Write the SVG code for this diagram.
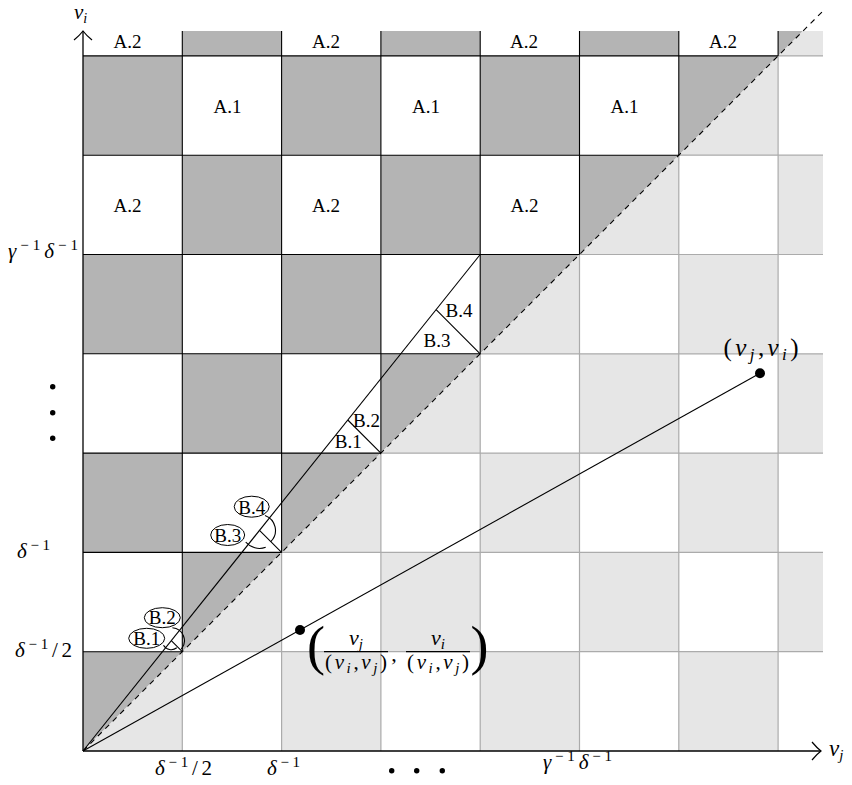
<svg xmlns="http://www.w3.org/2000/svg" width="852" height="785" viewBox="0 0 852 785">
<style>
.dk{fill:#b4b4b4}
.lt{fill:#e6e6e6}
.gk{stroke:#000;stroke-width:1.1;fill:none}
.gg{stroke:#ababab;stroke-width:1.2;fill:none}
.ln{stroke:#000;stroke-width:1.1;fill:none}
text{font-family:"Liberation Serif",serif}
.t{font-size:19px}
.i{font-style:italic}
.el{fill:#fff;stroke:#000;stroke-width:1}
</style>
<defs>
<marker id="ah" viewBox="0 0 12 20" refX="10" refY="10" markerWidth="12" markerHeight="20" markerUnits="userSpaceOnUse" orient="auto">
<path d="M1 1 Q6 7 10 10 Q6 13 1 19" fill="none" stroke="#000" stroke-width="1.2"/>
</marker>
</defs>
<rect width="852" height="785" fill="#fff"/>
<g id="cells">
<path class="dk" d="M83 453.1H182.3V552.4H83Z M182.3 353.8H281.6V453.1H182.3Z M83 254.5H182.3V353.8H83Z M281.6 254.5H380.9V353.8H281.6Z M182.3 155.2H281.6V254.5H182.3Z M380.9 155.2H480.2V254.5H380.9Z M83 55.9H182.3V155.2H83Z M281.6 55.9H380.9V155.2H281.6Z M480.2 55.9H579.5V155.2H480.2Z M182.3 31H281.6V55.9H182.3Z M380.9 31H480.2V55.9H380.9Z M579.5 31H678.8V55.9H579.5Z"/>
<path class="dk" d="M83 751L83 651.7L182.3 651.7Z M182.3 651.7L182.3 552.4L281.6 552.4Z M281.6 552.4L281.6 453.1L380.9 453.1Z M380.9 453.1L380.9 353.8L480.2 353.8Z M480.2 353.8L480.2 254.5L579.5 254.5Z M579.5 254.5L579.5 155.2L678.8 155.2Z M678.8 155.2L678.8 55.9L778.1 55.9Z M778.1 55.9L778.1 31L803 31Z"/>
<path class="lt" d="M281.6 651.7H380.9V751H281.6Z M480.2 651.7H579.5V751H480.2Z M678.8 651.7H778.1V751H678.8Z M380.9 552.4H480.2V651.7H380.9Z M579.5 552.4H678.8V651.7H579.5Z M778.1 552.4H823V651.7H778.1Z M480.2 453.1H579.5V552.4H480.2Z M678.8 453.1H778.1V552.4H678.8Z M579.5 353.8H678.8V453.1H579.5Z M778.1 353.8H823V453.1H778.1Z M678.8 254.5H778.1V353.8H678.8Z M778.1 155.2H823V254.5H778.1Z"/>
<path class="lt" d="M83 751L182.3 751L182.3 651.7Z M182.3 651.7L281.6 651.7L281.6 552.4Z M281.6 552.4L380.9 552.4L380.9 453.1Z M380.9 453.1L480.2 453.1L480.2 353.8Z M480.2 353.8L579.5 353.8L579.5 254.5Z M579.5 254.5L678.8 254.5L678.8 155.2Z M678.8 155.2L778.1 155.2L778.1 55.9Z M778.1 55.9L823 55.9L823 31L803 31Z"/>
</g>
<g id="grid">
<path class="gg" d="M182.3 651.7H823 M281.6 552.4H823 M380.9 453.1H823 M480.2 353.8H823 M579.5 254.5H823 M678.8 155.2H823 M778.1 55.9H823 M182.3 651.7V751 M281.6 552.4V751 M380.9 453.1V751 M480.2 353.8V751 M579.5 254.5V751 M678.8 155.2V751 M778.1 55.9V751"/>
<path class="gk" d="M83 651.7H182.3 M83 552.4H281.6 M83 453.1H380.9 M83 353.8H480.2 M83 254.5H579.5 M83 155.2H678.8 M83 55.9H778.1 M182.3 31V651.7 M281.6 31V552.4 M380.9 31V453.1 M480.2 31V353.8 M579.5 31V254.5 M678.8 31V155.2 M778.1 31V55.9"/>
</g>
<g id="connectors">
<path class="ln" d="M83 751L823 11" stroke-dasharray="5.5 5"/>
<path class="ln" d="M83 751L480.2 254.5"/>
<path class="ln" d="M182.3 651.7L171.3 640.7 M281.6 552.4L259.5 530.4 M380.9 453.1L347.8 420 M480.2 353.8L436.1 309.7"/>
<path class="ln" d="M83 751L760 373.3"/>
<path class="ln" d="M265 515.4A16 16 0 0 1 270.8 541.7 M245.7 542A18 18 0 0 0 265.7 547.3 M172.4 627.7A13 13 0 0 1 181.3 649.1 M163.5 645.2A9 9 0 0 0 176.8 647.8"/>
</g>
<g id="axes">
<path d="M83 751V31" stroke="#000" stroke-width="1.3" marker-end="url(#ah)"/>
<path d="M83 751H821" stroke="#000" stroke-width="1.3" marker-end="url(#ah)"/>
<text x="74" y="19" font-size="21"><tspan class="i">v</tspan><tspan font-size="14" dy="4" class="i">i</tspan></text>
<text x="829" y="756" font-size="23"><tspan class="i">v</tspan><tspan font-size="15" dy="4" class="i">j</tspan></text>
</g>
<g id="labelsA" class="t" text-anchor="middle">
<text x="127.5" y="48">A.2</text>
<text x="326" y="48">A.2</text>
<text x="524" y="48">A.2</text>
<text x="723" y="48">A.2</text>
<text x="227.5" y="112.7">A.1</text>
<text x="426" y="112.7">A.1</text>
<text x="624.5" y="112.7">A.1</text>
<text x="127.5" y="212.3">A.2</text>
<text x="326" y="212.3">A.2</text>
<text x="524.5" y="212.3">A.2</text>
</g>
<g id="labelsB" class="t" text-anchor="middle">
<text x="459" y="317.3">B.4</text>
<text x="437" y="346.7">B.3</text>
<text x="366.5" y="427">B.2</text>
<text x="348.3" y="447.7">B.1</text>
</g>
<g id="circB4"><ellipse class="el" cx="251.7" cy="506.7" rx="17.5" ry="10.5"/><text class="t" x="251.7" y="513.5" text-anchor="middle">B.4</text></g>
<g id="circB3"><ellipse class="el" cx="227.7" cy="535" rx="17" ry="10.5"/><text class="t" x="227.7" y="541.8" text-anchor="middle">B.3</text></g>
<g id="circB2"><ellipse class="el" cx="162.3" cy="617.7" rx="18" ry="10"/><text class="t" x="162.3" y="624.3" text-anchor="middle">B.2</text></g>
<g id="circB1"><ellipse class="el" cx="146.7" cy="638.3" rx="18" ry="10"/><text class="t" x="146.7" y="644.9" text-anchor="middle">B.1</text></g>
<g id="ticks" font-size="21" text-anchor="middle">
<text x="43.5" y="657" textLength="57" lengthAdjust="spacing"><tspan class="i">δ</tspan><tspan font-size="15" dy="-8">−1</tspan><tspan dy="8">/2</tspan></text>
<text x="33.5" y="558" textLength="33" lengthAdjust="spacing"><tspan class="i">δ</tspan><tspan font-size="15" dy="-8">−1</tspan></text>
<text x="43" y="258" textLength="70" lengthAdjust="spacing"><tspan class="i">γ</tspan><tspan font-size="15" dy="-8">−1</tspan><tspan class="i" dy="8">δ</tspan><tspan font-size="15" dy="-8">−1</tspan></text>
<text x="183.5" y="775" textLength="57" lengthAdjust="spacing"><tspan class="i">δ</tspan><tspan font-size="15" dy="-8">−1</tspan><tspan dy="8">/2</tspan></text>
<text x="283.5" y="775" textLength="33" lengthAdjust="spacing"><tspan class="i">δ</tspan><tspan font-size="15" dy="-8">−1</tspan></text>
<text x="577.5" y="769" textLength="69" lengthAdjust="spacing"><tspan class="i">γ</tspan><tspan font-size="15" dy="-8">−1</tspan><tspan class="i" dy="8">δ</tspan><tspan font-size="15" dy="-8">−1</tspan></text>
</g>
<g id="dots" fill="#000">
<circle cx="52.7" cy="386.7" r="2.7"/>
<circle cx="52.7" cy="412.7" r="2.7"/>
<circle cx="52.7" cy="438.3" r="2.7"/>
<circle cx="391.7" cy="770.7" r="2.7"/>
<circle cx="416.7" cy="770.7" r="2.7"/>
<circle cx="442.3" cy="770.7" r="2.7"/>
</g>
<g id="pointA">
<circle cx="760" cy="373.3" r="5" fill="#000"/>
<text x="761" y="356" font-size="25" text-anchor="middle" textLength="75" lengthAdjust="spacing">(<tspan class="i">v</tspan><tspan class="i" font-size="17" dy="4">j</tspan><tspan dy="-4">,</tspan><tspan class="i">v</tspan><tspan class="i" font-size="17" dy="4">i</tspan><tspan dy="-4">)</tspan></text>
</g>
<g id="pointB">
<circle cx="300" cy="630" r="5" fill="#000"/>
<text x="307" y="664.4" font-size="54">(</text>
<text x="356" y="645" font-size="22" text-anchor="middle"><tspan class="i">v</tspan><tspan class="i" font-size="15" dy="4">j</tspan></text>
<line x1="324" y1="651.7" x2="388" y2="651.7" stroke="#000" stroke-width="1.3"/>
<text x="356" y="669" font-size="21" text-anchor="middle" textLength="62" lengthAdjust="spacing">(<tspan class="i">v</tspan><tspan class="i" font-size="15" dy="4">i</tspan><tspan dy="-4">,</tspan><tspan class="i">v</tspan><tspan class="i" font-size="15" dy="4">j</tspan><tspan dy="-4">)</tspan></text>
<text x="394" y="661" font-size="22" text-anchor="middle">,</text>
<text x="438" y="645" font-size="22" text-anchor="middle"><tspan class="i">v</tspan><tspan class="i" font-size="15" dy="4">i</tspan></text>
<line x1="406" y1="651.7" x2="470" y2="651.7" stroke="#000" stroke-width="1.3"/>
<text x="438" y="669" font-size="21" text-anchor="middle" textLength="62" lengthAdjust="spacing">(<tspan class="i">v</tspan><tspan class="i" font-size="15" dy="4">i</tspan><tspan dy="-4">,</tspan><tspan class="i">v</tspan><tspan class="i" font-size="15" dy="4">j</tspan><tspan dy="-4">)</tspan></text>
<text x="470.5" y="664.4" font-size="54">)</text>
</g>
</svg>
